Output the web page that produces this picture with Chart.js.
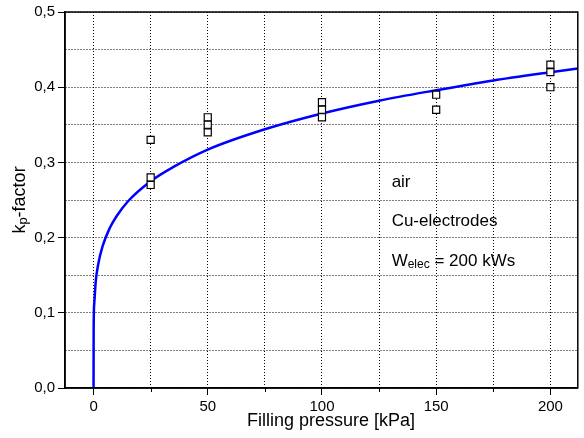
<!DOCTYPE html>
<html>
<head>
<meta charset="utf-8">
<script src="https://cdn.jsdelivr.net/npm/chart.js@4.4.1/dist/chart.umd.min.js"></script>
<style>
  html, body { margin: 0; padding: 0; background: #fff; }
  #wrap { width: 584px; height: 438px; }
</style>
</head>
<body>
<div id="wrap"><canvas id="kpChart" width="584" height="438"></canvas></div>
<script>
// measured kp-factor values
const pressureKPa = [25, 25, 25, 50, 50, 50, 100, 100, 100, 150, 150, 200, 200, 200];
const kpMeasured = [0.33, 0.28, 0.27, 0.36, 0.35, 0.34, 0.38, 0.37, 0.36, 0.39, 0.37, 0.43, 0.42, 0.40];

// fitted curve
const fitPressure = [0, 0.05, 0.3, 1, 2, 4, 7, 10, 15, 25, 35, 50, 75, 100, 125, 150, 175, 200, 212];
const fitKp = [0, 0.078, 0.112, 0.143, 0.164, 0.189, 0.212, 0.228, 0.248, 0.275, 0.294, 0.317, 0.344, 0.365, 0.382, 0.396, 0.409, 0.420, 0.425];

// axis ticks
const xTicks = [0, 25, 50, 75, 100, 125, 150, 175, 200];
const xLabelTicks = [0, 50, 100, 150, 200];
const yTicks = [0, 0.05, 0.1, 0.15, 0.2, 0.25, 0.3, 0.35, 0.4, 0.45, 0.5];

const noteLines = ['air', 'Cu-electrodes'];

const FONT = 'Arial, "Liberation Sans", sans-serif';

function isMajorY(v) {
    return Math.round(v * 100) % 10 === 0;
}

// frame, minor ticks, titles and notes
const extrasPlugin = {
    id: 'extras',
    afterDraw(chart) {
        const ctx = chart.ctx;
        const area = chart.chartArea;
        const xs = chart.scales.x;
        const ys = chart.scales.y;
        ctx.save();

        // frame
        ctx.strokeStyle = '#000';
        ctx.lineWidth = 1.5;
        ctx.strokeRect(area.left, area.top, area.right - area.left, area.bottom - area.top);

        // minor ticks on x
        ctx.lineWidth = 1;
        xTicks.forEach(function (v) {
            if (xLabelTicks.includes(v)) return;
            const px = Math.round(xs.getPixelForValue(v)) + 0.5;
            ctx.beginPath();
            ctx.moveTo(px, area.bottom);
            ctx.lineTo(px, area.bottom + 4);
            ctx.stroke();
        });

        ctx.fillStyle = '#000';

        // x title
        ctx.font = '18px ' + FONT;
        ctx.textAlign = 'center';
        ctx.textBaseline = 'middle';
        ctx.fillText('Filling pressure [kPa]', 331, 421);

        // y title with subscript
        ctx.save();
        ctx.translate(20, (area.top + area.bottom) / 2);
        ctx.rotate(-Math.PI / 2);
        ctx.textAlign = 'left';
        ctx.textBaseline = 'middle';
        ctx.font = '18px ' + FONT;
        const wK = ctx.measureText('k').width;
        ctx.font = '13px ' + FONT;
        const wP = ctx.measureText('p').width;
        ctx.font = '18px ' + FONT;
        const wF = ctx.measureText('-factor').width;
        let x0 = -(wK + wP + wF) / 2;
        ctx.fillText('k', x0, 0);
        ctx.font = '13px ' + FONT;
        ctx.fillText('p', x0 + wK, 3);
        ctx.font = '18px ' + FONT;
        ctx.fillText('-factor', x0 + wK + wP, 0);
        ctx.restore();

        // notes
        ctx.textAlign = 'left';
        ctx.textBaseline = 'middle';
        ctx.font = '17px ' + FONT;
        const nx = xs.getPixelForValue(130.5);
        ctx.fillText(noteLines[0], nx, ys.getPixelForValue(0.274));
        ctx.fillText(noteLines[1], nx, ys.getPixelForValue(0.221));
        const wy = ys.getPixelForValue(0.168);
        ctx.fillText('W', nx, wy);
        const wW = ctx.measureText('W').width;
        ctx.font = '12px ' + FONT;
        ctx.fillText('elec', nx + wW, wy + 3);
        const wE = ctx.measureText('elec').width;
        ctx.font = '17px ' + FONT;
        ctx.fillText(' = 200 kWs', nx + wW + wE, wy);

        ctx.restore();
    }
};

const ctx = document.getElementById('kpChart').getContext('2d');
const kpChart = new Chart(ctx, {
    type: 'scatter',
    data: {
        datasets: [{
            label: 'measured',
            data: pressureKPa.map((p, i) => ({ x: p, y: kpMeasured[i] })),
            pointStyle: 'rect',
            pointRadius: 5,
            pointBorderWidth: 1.2,
            borderColor: '#000',
            backgroundColor: '#fff',
            showLine: false
        }, {
            label: 'fit',
            data: fitPressure.map((p, i) => ({ x: p, y: fitKp[i] })),
            showLine: true,
            borderColor: 'rgb(0, 0, 255)',
            borderWidth: 2.5,
            pointRadius: 0,
            cubicInterpolationMode: 'monotone',
            fill: false
        }]
    },
    options: {
        responsive: false,
        animation: false,
        layout: { padding: { top: 12, right: 4, left: 0, bottom: 0 } },
        plugins: {
            legend: { display: false },
            tooltip: { enabled: false }
        },
        scales: {
            x: {
                type: 'linear',
                min: -12.5,
                max: 212,
                afterFit: function (scale) { scale.height = 50; },
                afterBuildTicks: function (scale) {
                    scale.ticks = xTicks.map(v => ({ value: v }));
                },
                grid: {
                    color: '#000',
                    lineWidth: 1,
                    tickLength: 7,
                    tickColor: function (c) {
                        return xLabelTicks.includes(c.tick.value) ? '#000' : 'rgba(0,0,0,0)';
                    }
                },
                border: { display: true, color: '#000', width: 1.5, dash: [1, 2] },
                ticks: {
                    color: '#000',
                    font: { family: FONT, size: 15 },
                    padding: 3,
                    maxRotation: 0,
                    autoSkip: false,
                    callback: function (v) {
                        return xLabelTicks.includes(v) ? String(v) : '';
                    }
                }
            },
            y: {
                type: 'linear',
                min: 0,
                max: 0.5,
                afterFit: function (scale) { scale.width = 65; },
                afterBuildTicks: function (scale) {
                    scale.ticks = yTicks.map(v => ({ value: v }));
                },
                grid: {
                    color: '#000',
                    lineWidth: 1,
                    tickLength: 7,
                    tickColor: function (c) {
                        return isMajorY(c.tick.value) ? '#000' : 'rgba(0,0,0,0)';
                    }
                },
                border: { display: true, color: '#000', width: 1.5, dash: [1, 2] },
                ticks: {
                    color: '#000',
                    font: { family: FONT, size: 15 },
                    padding: 3,
                    autoSkip: false,
                    callback: function (v) {
                        return isMajorY(v) ? v.toFixed(1).replace('.', ',') : '';
                    }
                }
            }
        }
    },
    plugins: [extrasPlugin]
});
</script>
</body>
</html>
